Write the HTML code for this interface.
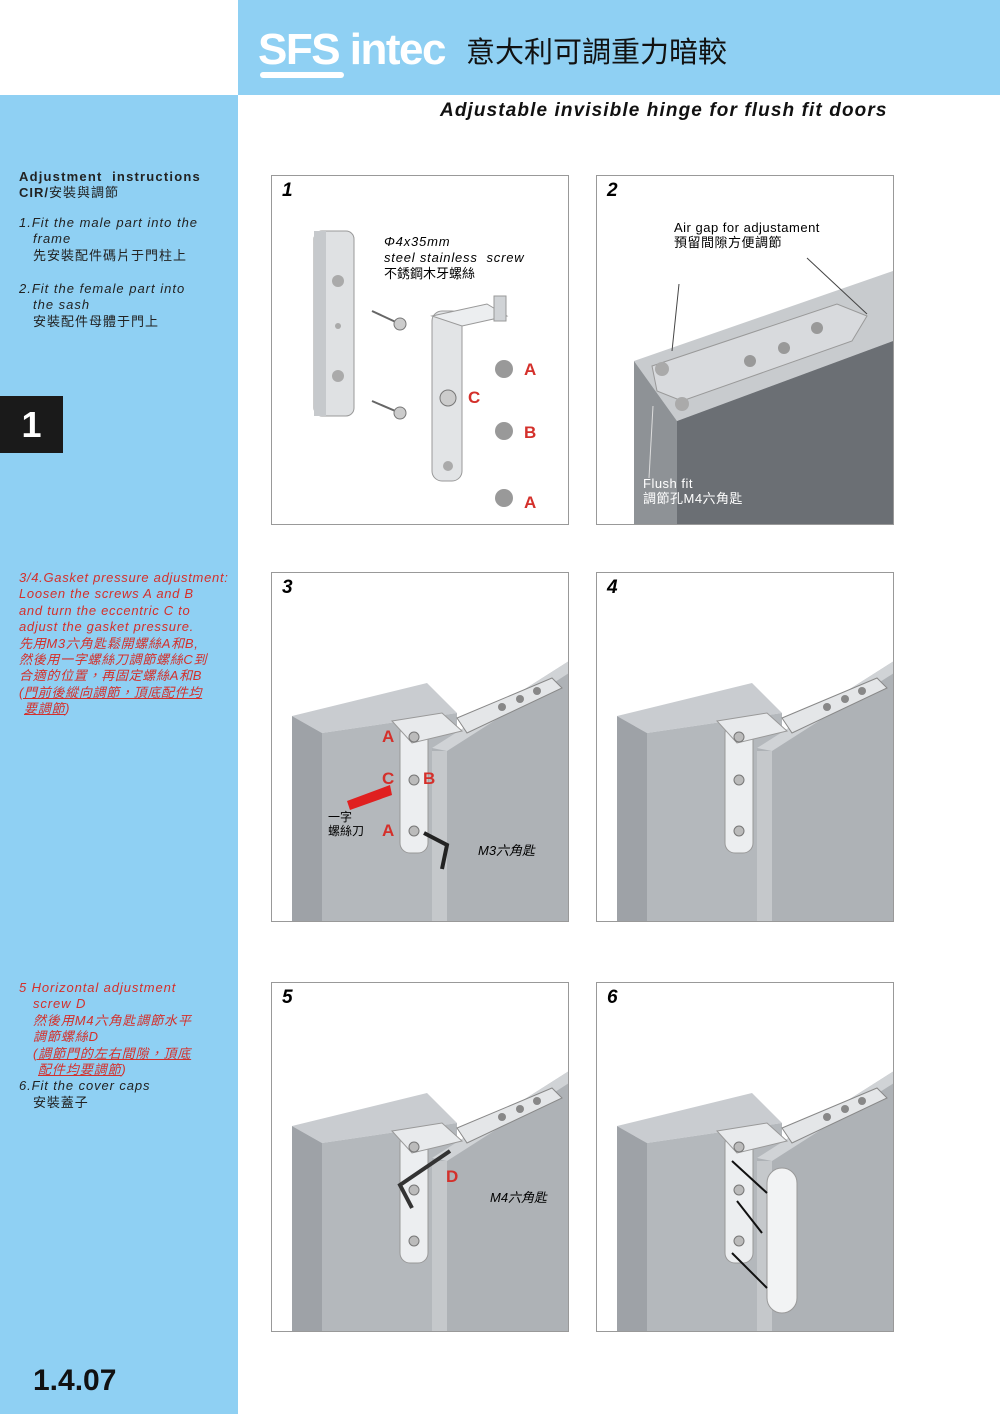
<!DOCTYPE html>
<html><head><meta charset="utf-8"><style>
body{margin:0;width:1000px;height:1414px;position:relative;background:#fff;font-family:"Liberation Sans","Noto Sans CJK TC",sans-serif;overflow:hidden}
.abs{position:absolute}
.side{left:0;top:95px;width:238px;height:1319px;background:#8fd0f3}
.head{left:238px;top:0;width:762px;height:95px;background:#8fd0f3}
.panel{position:absolute;width:296px;height:348px;border:1px solid #999;background:#fff}
.num{position:absolute;left:10px;top:4px;font:italic bold 19px "Liberation Sans",sans-serif}
.st{font-size:13px;line-height:16.4px;color:#222;letter-spacing:0.5px}
.i{font-style:italic}
.red{color:#d4302b}
.ind{padding-left:14px}
.u{text-decoration:underline}
</style></head><body>
<div class="abs head"></div>
<div class="abs side"></div>
<div class="abs" style="left:258px;top:27px;font:bold 44px 'Liberation Sans',sans-serif;color:#fff;letter-spacing:-1.5px;line-height:46px">SFS intec</div>
<div class="abs" style="left:260px;top:72px;width:84px;height:6px;background:#fff;border-radius:3px"></div>
<div class="abs" style="left:466px;top:30px;font-size:29px;color:#111;font-family:'Noto Sans CJK TC',sans-serif;line-height:40px">意大利可調重力暗較</div>
<div class="abs" style="left:440px;top:100px;font:italic bold 19px 'Liberation Sans',sans-serif;color:#111;letter-spacing:1.1px">Adjustable invisible hinge for flush fit doors</div>

<div class="abs st" style="left:19px;top:169px;width:219px;letter-spacing:1px">
<div style="font-weight:bold;letter-spacing:1.2px">Adjustment&nbsp; instructions</div>
<div style="font-weight:bold">CIR/<span style="font-weight:normal">安裝與調節</span></div>
<div class="i" style="margin-top:13px">1.Fit the male part into the</div>
<div class="i ind">frame</div><div class="ind">先安裝配件碼片于門柱上</div>
<div class="i" style="margin-top:17px">2.Fit the female part into</div>
<div class="i ind">the sash</div><div class="ind">安裝配件母體于門上</div>
</div>
<div class="abs" style="left:0;top:396px;width:63px;height:57px;background:#1a1a1a;color:#fff;font:bold 36px 'Liberation Sans',sans-serif;text-align:center;line-height:57px">1</div>

<div class="abs st i red" style="left:19px;top:570px;width:220px;letter-spacing:0.7px">
<div>3/4.Gasket pressure adjustment:</div>
<div>Loosen the screws A and B</div>
<div>and turn the eccentric C to</div>
<div>adjust the gasket pressure.</div>
<div>先用M3六角匙鬆開螺絲A和B,</div>
<div>然後用一字螺絲刀調節螺絲C到</div>
<div>合適的位置，再固定螺絲A和B</div>
<div class="u">(門前後縱向調節，頂底配件均</div>
<div style="padding-left:5px"><span class="u">要調節</span>)</div>
</div>

<div class="abs st i" style="left:19px;top:980px;width:220px;letter-spacing:0.9px">
<div class="red">5 Horizontal adjustment</div>
<div class="red ind">screw D</div>
<div class="red ind">然後用M4六角匙調節水平</div>
<div class="red ind">調節螺絲D</div>
<div class="red ind u">(調節門的左右間隙，頂底</div>
<div class="red" style="padding-left:19px"><span class="u">配件均要調節</span>)</div>
<div>6.Fit the cover caps</div>
<div class="ind" style="font-style:normal">安裝蓋子</div>
</div>
<div class="abs" style="left:33px;top:1364px;font:bold 30px 'Liberation Sans',sans-serif;color:#111">1.4.07</div>

<svg width="0" height="0" style="position:absolute">
<defs>
<g id="door">
<polygon points="20,143 155,110 185,140 50,160" fill="#c9ccd0"/>
<polygon points="20,143 50,160 50,349 20,349" fill="#9ea2a7"/>
<polygon points="50,160 185,140 185,349 50,349" fill="#b4b8bc"/>
<polygon points="160,175 297,88 297,349 160,349" fill="#aeb2b6"/>
<polygon points="160,175 297,88 297,100 175,178" fill="#d0d3d6"/>
<polygon points="160,178 175,178 175,349 160,349" fill="#c5c8cb"/>
<polygon points="185,145 280,105 290,115 195,160" fill="#e4e6e8" stroke="#888" stroke-width="1"/>
<circle cx="265" cy="118" r="4" fill="#888"/><circle cx="248" cy="126" r="4" fill="#888"/><circle cx="230" cy="134" r="4" fill="#888"/>
<rect x="128" y="150" width="28" height="130" rx="10" fill="#eceef0" stroke="#999"/>
<polygon points="120,148 170,140 190,158 140,170" fill="#e8eaec" stroke="#999"/>
<circle cx="142" cy="164" r="5" fill="#bbb" stroke="#777"/><circle cx="142" cy="207" r="5" fill="#bbb" stroke="#777"/><circle cx="142" cy="258" r="5" fill="#bbb" stroke="#777"/>
</g>
</defs></svg>

<!-- Panel 1 -->
<div class="panel" style="left:271px;top:175px"><div class="num">1</div>
<svg class="abs" style="left:0;top:0" width="296" height="348">
<rect x="42" y="55" width="40" height="185" rx="8" fill="#dfe1e3" stroke="#999"/>
<rect x="42" y="55" width="12" height="185" fill="#c6c9cc"/>
<circle cx="66" cy="105" r="6" fill="#aaa"/><circle cx="66" cy="200" r="6" fill="#aaa"/><circle cx="66" cy="150" r="3" fill="#aaa"/>
<g stroke="#666" stroke-width="2"><line x1="100" y1="135" x2="128" y2="148"/><line x1="100" y1="225" x2="128" y2="237"/></g>
<circle cx="128" cy="148" r="6" fill="#ccc" stroke="#777"/><circle cx="128" cy="237" r="6" fill="#ccc" stroke="#777"/>
<rect x="160" y="135" width="30" height="170" rx="10" fill="#e2e4e6" stroke="#999"/>
<polygon points="160,140 215,128 235,140 190,150" fill="#eceef0" stroke="#999"/>
<rect x="222" y="120" width="12" height="25" fill="#d0d3d6" stroke="#999"/>
<circle cx="176" cy="222" r="8" fill="#ccc" stroke="#777"/><circle cx="176" cy="290" r="5" fill="#aaa"/>
<circle cx="232" cy="193" r="9" fill="#999"/><circle cx="232" cy="255" r="9" fill="#999"/><circle cx="232" cy="322" r="9" fill="#999"/>
</svg>
<div class="abs" style="left:112px;top:58px;font:italic 13px 'Liberation Sans','Noto Sans CJK TC',sans-serif;line-height:16px;letter-spacing:0.8px">Φ4x35mm<br>steel stainless&nbsp; screw<br><span style="font-style:normal;letter-spacing:0">不銹鋼木牙螺絲</span></div>
<div class="abs red" style="left:252px;top:184px;font:bold 17px 'Liberation Sans'">A</div>
<div class="abs red" style="left:196px;top:212px;font:bold 17px 'Liberation Sans'">C</div>
<div class="abs red" style="left:252px;top:247px;font:bold 17px 'Liberation Sans'">B</div>
<div class="abs red" style="left:252px;top:317px;font:bold 17px 'Liberation Sans'">A</div>
</div>

<!-- Panel 2 -->
<div class="panel" style="left:596px;top:175px"><div class="num">2</div>
<svg class="abs" style="left:0;top:0" width="296" height="348">
<polygon points="37,185 296,95 296,165 80,245" fill="#c8cbce"/>
<polygon points="37,185 80,245 80,348 37,348" fill="#8e9296"/>
<polygon points="80,245 296,165 296,348 80,348" fill="#6b6f74"/>
<polygon points="55,190 240,128 270,140 255,165 85,225 60,215" fill="#d8dadd" stroke="#999"/>
<circle cx="65" cy="193" r="7" fill="#aaa"/><circle cx="85" cy="228" r="7" fill="#aaa"/>
<circle cx="153" cy="185" r="6" fill="#999"/><circle cx="187" cy="172" r="6" fill="#999"/><circle cx="220" cy="152" r="6" fill="#999"/>
<g stroke="#444" stroke-width="1"><line x1="82" y1="108" x2="75" y2="175"/><line x1="210" y1="82" x2="270" y2="138"/><line x1="52" y1="302" x2="56" y2="230" stroke="#ddd"/></g>
</svg>
<div class="abs" style="left:77px;top:44px;font-size:13px;line-height:15px;letter-spacing:0.5px">Air gap for adjustament<br>預留間隙方便調節</div>
<div class="abs" style="left:46px;top:300px;font-size:13px;line-height:15px;color:#fff;letter-spacing:0.5px">Flush fit<br>調節孔M4六角匙</div>
</div>

<!-- Panel 3 -->
<div class="panel" style="left:271px;top:572px"><div class="num">3</div>
<svg class="abs" style="left:0;top:0" width="296" height="348"><use href="#door"/>
<polygon points="75,228 118,212 120,222 78,237" fill="#e02020"/>
<polyline points="152,260 175,272 170,296" fill="none" stroke="#222" stroke-width="4"/></svg>
<div class="abs red" style="left:110px;top:154px;font:bold 17px 'Liberation Sans'">A</div>
<div class="abs red" style="left:110px;top:196px;font:bold 17px 'Liberation Sans'">C</div>
<div class="abs red" style="left:151px;top:196px;font:bold 17px 'Liberation Sans'">B</div>
<div class="abs red" style="left:110px;top:248px;font:bold 17px 'Liberation Sans'">A</div>
<div class="abs" style="left:56px;top:237px;font-size:12px;line-height:14px">一字<br>螺絲刀</div>
<div class="abs i" style="left:206px;top:267px;font-size:13px">M3六角匙</div>
</div>

<!-- Panel 4 -->
<div class="panel" style="left:596px;top:572px"><div class="num">4</div>
<svg class="abs" style="left:0;top:0" width="296" height="348"><use href="#door"/></svg></div>

<!-- Panel 5 -->
<div class="panel" style="left:271px;top:982px"><div class="num">5</div>
<svg class="abs" style="left:0;top:0" width="296" height="348"><use href="#door"/>
<polyline points="178,168 128,202 140,225" fill="none" stroke="#333" stroke-width="4"/></svg>
<div class="abs red" style="left:174px;top:184px;font:bold 17px 'Liberation Sans'">D</div>
<div class="abs i" style="left:218px;top:204px;font-size:13px">M4六角匙</div>
</div>

<!-- Panel 6 -->
<div class="panel" style="left:596px;top:982px"><div class="num">6</div>
<svg class="abs" style="left:0;top:0" width="296" height="348"><use href="#door"/>
<rect x="170" y="185" width="30" height="145" rx="15" fill="#f2f3f4" stroke="#999"/>
<g stroke="#111" stroke-width="2"><line x1="170" y1="210" x2="135" y2="178"/><line x1="170" y1="305" x2="135" y2="270"/><line x1="165" y1="250" x2="140" y2="218"/></g></svg></div>
</body></html>
